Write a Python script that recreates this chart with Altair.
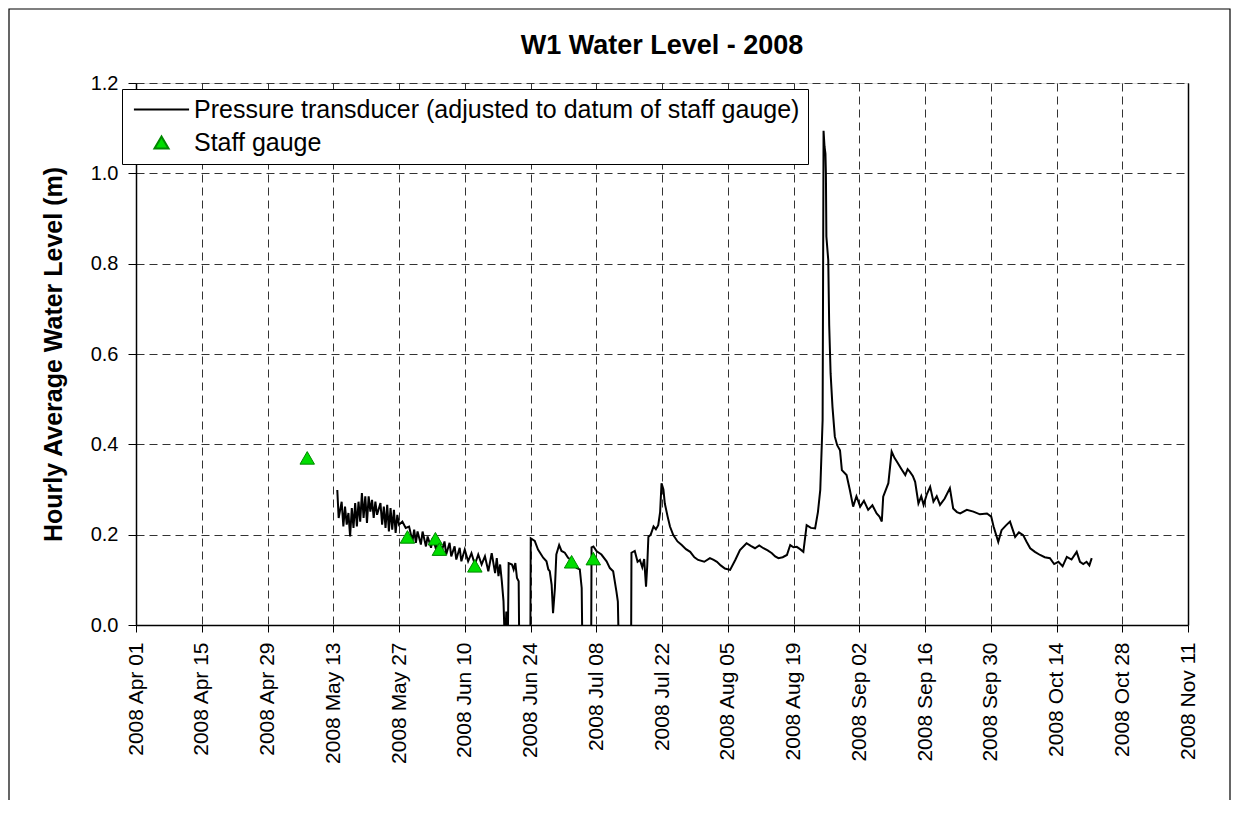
import altair as alt
import pandas as pd

START = pd.Timestamp("2008-04-01T00:00:00")

# Pressure transducer record: days after 2008-04-01 and hourly average level (m)
transducer_days = [
    42.86, 43.15, 43.79, 44.15, 44.51, 44.87, 45.23, 45.59, 45.95, 46.31,
    46.67, 47.03, 47.38, 47.74, 48.10, 48.46, 48.82, 49.18, 49.54, 49.90,
    50.26, 50.61, 50.97, 51.33, 52.05, 52.41, 52.77, 53.13, 53.49, 53.85,
    54.20, 54.56, 54.92, 55.28, 55.64, 56.00, 56.72, 57.43, 58.15, 58.87,
    59.23, 59.59, 59.95, 60.66, 61.02, 61.74, 62.10, 62.82, 63.18, 63.90,
    64.25, 64.97, 65.69, 66.05, 66.77, 67.13, 67.84, 68.20, 68.92, 69.28,
    70.00, 70.72, 71.43, 72.15, 72.87, 73.59, 74.30, 75.02, 75.74, 76.46,
    76.82, 77.18, 77.53, 77.89, 78.25, 78.55, 78.85, 79.15, 79.35, 80.05,
    80.41, 80.77, 81.12, 81.48, 81.65, 83.95,
    84.05, 84.9, 85.6, 86.7, 87.4, 87.8, 88.1, 88.5, 88.8, 89.2,
    89.5, 90.1, 90.6, 91.3, 92.0, 93.1, 93.8, 94.5, 94.9, 95.1,
    96.9, 97.0, 97.4, 98.1, 99.1, 100.2, 100.9, 101.6, 102.3, 102.6,
    102.9, 105.4, 105.5, 106.2, 106.8, 107.3, 107.8, 108.2, 108.6, 108.85,
    109.1, 109.6, 110.2, 110.7, 111.2, 111.6, 111.9, 112.3, 112.6, 113.2,
    113.7, 114.4, 115.3, 116.2, 117.1, 118.0, 118.9, 119.7, 121.0, 122.2,
    123.0, 123.7, 124.5, 125.4, 126.5, 127.6, 128.6, 130.0, 130.9, 131.8,
    132.7, 133.6, 134.5, 135.4, 136.1, 136.8, 137.7, 138.6, 139.3, 140.0,
    140.7, 141.4, 142.1, 142.8, 143.7, 144.6, 145.2, 145.7, 146.2, 146.4,
    146.6, 146.8, 146.9, 147.0, 147.4, 147.6, 147.9, 148.3, 148.8, 149.3,
    149.9, 150.3, 151.3, 152.0, 152.7, 153.4, 154.2, 155.0, 155.9, 156.8,
    157.7, 158.3, 158.8, 159.1, 160.2, 160.9, 161.5, 162.0, 163.0, 163.8,
    164.3, 164.8, 165.4, 165.9, 166.6, 167.2, 167.7, 168.4, 169.1, 169.8,
    170.5, 171.2, 172.2, 173.3, 174.0, 174.8, 175.5, 176.9, 178.3, 179.7,
    181.2, 182.1, 182.6, 183.6, 184.3, 185.2, 186.1, 187.2, 188.0, 188.9,
    189.6, 190.4, 191.4, 192.5, 193.5, 194.6, 195.5, 196.4, 197.3, 198.2,
    199.2, 200.3, 201.0, 201.7, 202.4, 203.0, 203.5,
]
transducer_levels = [
    0.299, 0.237, 0.273, 0.218, 0.262, 0.222, 0.248, 0.196, 0.259, 0.215,
    0.270, 0.218, 0.273, 0.229, 0.292, 0.237, 0.285, 0.226, 0.285, 0.251,
    0.277, 0.237, 0.273, 0.244, 0.270, 0.222, 0.262, 0.215, 0.266, 0.207,
    0.259, 0.211, 0.255, 0.204, 0.244, 0.222, 0.229, 0.215, 0.218, 0.185,
    0.211, 0.182, 0.207, 0.178, 0.207, 0.174, 0.196, 0.171, 0.193, 0.167,
    0.193, 0.159, 0.185, 0.156, 0.182, 0.152, 0.174, 0.145, 0.171, 0.141,
    0.167, 0.141, 0.159, 0.134, 0.156, 0.134, 0.152, 0.119, 0.159, 0.115,
    0.148, 0.108, 0.134, 0.097, 0.053, -0.050, 0.030, -0.050, 0.137, 0.134,
    0.123, 0.137, 0.104, 0.097, -0.100, -0.100,
    0.192, 0.186, 0.167, 0.149, 0.141, 0.123, 0.119, 0.089, 0.026, 0.082,
    0.156, 0.177, 0.164, 0.160, 0.149, 0.141, 0.126, 0.123, 0.082, -0.100,
    -0.100, 0.172, 0.174, 0.163, 0.156, 0.141, 0.126, 0.119, 0.074, 0.052,
    -0.100, -0.100, 0.160, 0.164, 0.140, 0.144, 0.128, 0.146, 0.085, 0.130,
    0.195, 0.200, 0.218, 0.212, 0.221, 0.250, 0.314, 0.300, 0.269, 0.240,
    0.218, 0.199, 0.185, 0.177, 0.168, 0.162, 0.150, 0.144, 0.140, 0.148,
    0.144, 0.140, 0.132, 0.125, 0.122, 0.144, 0.166, 0.181, 0.175, 0.170,
    0.176, 0.170, 0.165, 0.159, 0.152, 0.148, 0.150, 0.155, 0.177, 0.172,
    0.173, 0.168, 0.162, 0.221, 0.215, 0.214, 0.250, 0.299, 0.454, 1.094,
    1.060, 1.044, 1.000, 0.860, 0.808, 0.664, 0.557, 0.483, 0.417, 0.398,
    0.387, 0.343, 0.332, 0.299, 0.262, 0.285, 0.262, 0.275, 0.255, 0.265,
    0.247, 0.240, 0.229, 0.284, 0.314, 0.384, 0.370, 0.362, 0.345, 0.332,
    0.345, 0.339, 0.330, 0.317, 0.269, 0.285, 0.266, 0.290, 0.306, 0.273,
    0.285, 0.266, 0.280, 0.303, 0.258, 0.250, 0.247, 0.255, 0.251, 0.245,
    0.247, 0.240, 0.218, 0.184, 0.210, 0.220, 0.229, 0.195, 0.205, 0.199,
    0.185, 0.170, 0.162, 0.155, 0.150, 0.148, 0.135, 0.140, 0.130, 0.151,
    0.145, 0.162, 0.140, 0.135, 0.140, 0.132, 0.148,
]

# Staff gauge readings
gauge_days = [36.46, 57.8, 63.75, 64.6, 72.15, 92.75, 97.37]
gauge_levels = [0.370, 0.195, 0.191, 0.168, 0.131, 0.140, 0.147]

tick_dates = [
    "2008-04-01", "2008-04-15", "2008-04-29", "2008-05-13", "2008-05-27",
    "2008-06-10", "2008-06-24", "2008-07-08", "2008-07-22", "2008-08-05",
    "2008-08-19", "2008-09-02", "2008-09-16", "2008-09-30", "2008-10-14",
    "2008-10-28", "2008-11-11",
]
y_ticks = [0.0, 0.2, 0.4, 0.6, 0.8, 1.0, 1.2]
series_names = ["Pressure transducer (adjusted to datum of staff gauge)", "Staff gauge"]


def to_iso(days):
    return [(START + pd.to_timedelta(d, unit="D")).strftime("%Y-%m-%dT%H:%M:%S") for d in days]


def to_dt(s):
    t = pd.Timestamp(s)
    return alt.DateTime(year=t.year, month=t.month, date=t.day)


line_df = pd.DataFrame({"date": to_iso(transducer_days), "level": transducer_levels})
gauge_df = pd.DataFrame({"date": to_iso(gauge_days), "level": gauge_levels,
                         "series": [series_names[1]] * len(gauge_days)})

FONT = "Liberation Sans"
tick_values = [to_dt(s) for s in tick_dates]
x_scale = alt.Scale(domain=[to_dt(tick_dates[0]), to_dt(tick_dates[-1])])
y_scale = alt.Scale(domain=[0, 1.2], nice=False, zero=False)

grid_kw = dict(grid=True, gridDash=[8, 5], gridColor="#333333", gridWidth=1, gridOpacity=1,
               domainColor="black", domainWidth=1.5, tickColor="black", tickWidth=1)

x_axis = alt.Axis(values=tick_values, format="%Y %b %d", labelAngle=-90, labelFontSize=21,
                  labelFont=FONT, labelColor="black", labelPadding=10, tickSize=7,
                  labelOverlap=False, labelFlush=False, title=None, **grid_kw)
y_axis = alt.Axis(values=y_ticks, format=".1f", labelFontSize=20, labelFont=FONT,
                  labelColor="black", labelPadding=10, tickSize=8,
                  title="Hourly Average Water Level (m)", titleFont=FONT, titleFontSize=25,
                  titleFontWeight="bold", titleColor="black", titlePadding=24, **grid_kw)
y_right = alt.Axis(orient="right", labels=False, ticks=False, grid=False, title=None,
                   domainColor="black", domainWidth=1.5)

# line legend symbol: a long horizontal stroke drawn with a custom path
line_symbol = "M-3.9,0H3.9"

legend = alt.Legend(title=None, orient="none", legendX=-14, legendY=6, direction="vertical",
                    fillColor="white", strokeColor="black", padding=8, rowPadding=7,
                    labelFontSize=25, labelFont=FONT, labelColor="black", labelLimit=900,
                    labelOffset=20, symbolOffset=19, symbolSize=200, symbolStrokeWidth=2)

frame = alt.Chart(pd.DataFrame({"frame": [0]})).mark_rect(
    filled=False, stroke="black", strokeWidth=1.2
).encode(x=alt.value(-127), x2=alt.value(1094), y=alt.value(-74), y2=alt.value(760))

line = alt.Chart(line_df).mark_line(color="black", strokeWidth=2, clip=True).encode(
    x=alt.X("date:T", scale=x_scale, axis=x_axis),
    y=alt.Y("level:Q", scale=y_scale, axis=y_axis),
)

points = alt.Chart(gauge_df).mark_point(filled=True, opacity=1, strokeWidth=1).encode(
    x=alt.X("date:T", scale=x_scale, axis=x_axis),
    y=alt.Y("level:Q", scale=y_scale, axis=y_right),
    shape=alt.Shape("series:N", scale=alt.Scale(domain=series_names, range=[line_symbol, "triangle-up"]), legend=legend),
    fill=alt.Fill("series:N", scale=alt.Scale(domain=series_names, range=["black", "#00dd00"]), legend=legend),
    stroke=alt.Stroke("series:N", scale=alt.Scale(domain=series_names, range=["black", "#008800"]), legend=legend),
    size=alt.value(210),
)

chart = alt.layer(frame, line, points).resolve_axis(y="independent").properties(
    width=1052, height=542,
    title=alt.TitleParams("W1 Water Level - 2008", fontSize=27, font=FONT, fontWeight="bold",
                          color="black", anchor="middle", frame="group", offset=-52),
    autosize=alt.AutoSizeParams(type="none"),
    padding={"left": 128, "top": 75, "right": 44, "bottom": 175},
).configure_view(strokeWidth=0).configure(background="white")

chart.save("out.html", embed_options={"renderer": "svg", "actions": False})
